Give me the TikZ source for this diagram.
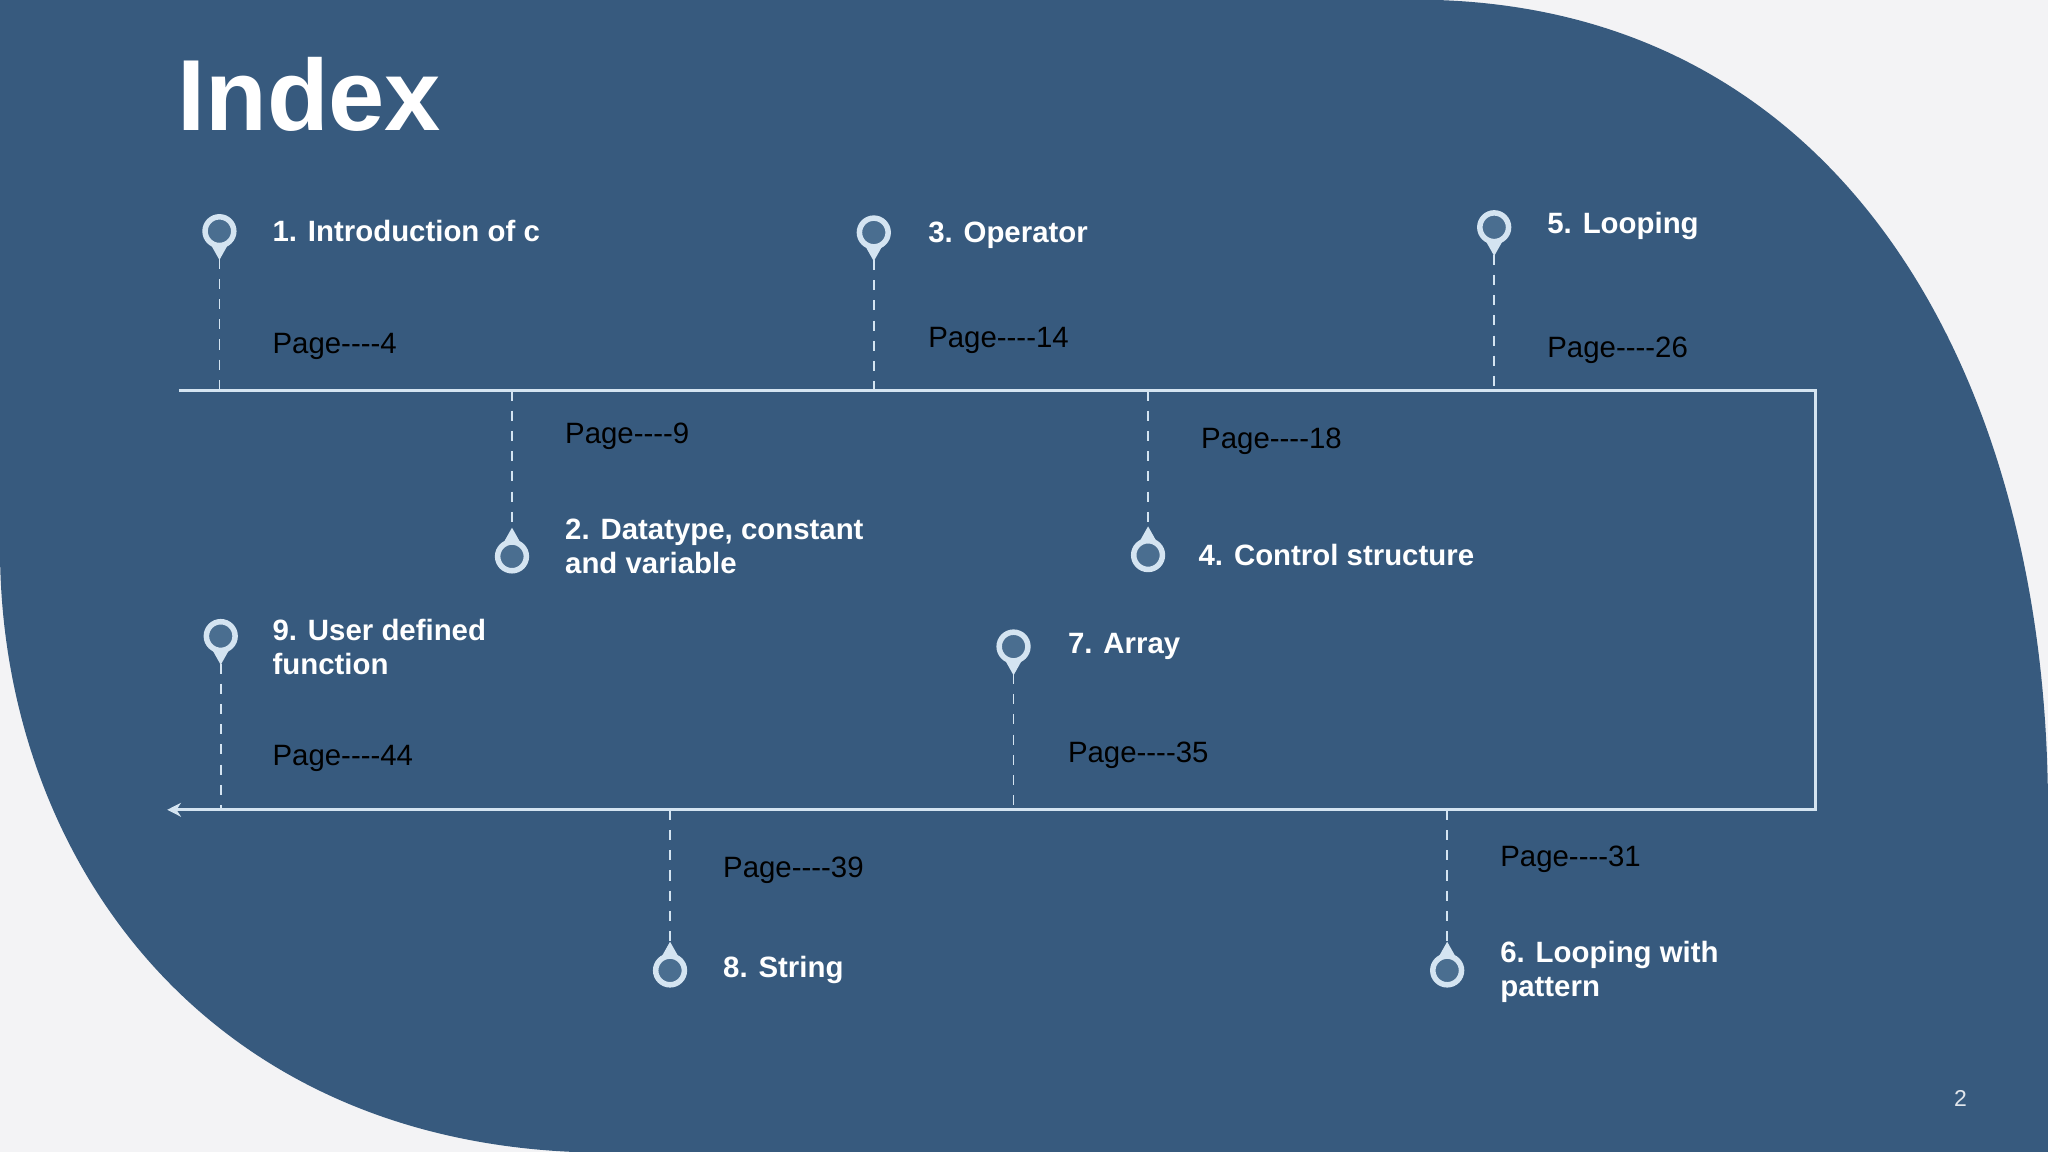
\documentclass[tikz,border=0pt]{standalone}
\usepackage{fontspec}
\setmainfont{Liberation Sans}[Ligatures=NoCommon]
\usetikzlibrary{arrows.meta}
\definecolor{bg}{HTML}{F3F3F5}
\definecolor{blu}{HTML}{375A7E}
\definecolor{pinc}{HTML}{D4E4F1}
\definecolor{pinin}{HTML}{4A6E90}
\newcommand{\dd}{-{}-{}-{}-}
\begin{document}
\begin{tikzpicture}[x=0.01cm,y=-0.01cm,
  lbl/.style={anchor=west,text=white,font=\fontsize{6.4}{7.4}\selectfont\bfseries,align=left,inner sep=0},
  pg/.style={anchor=west,text=black,font=\fontsize{6.4}{7.4}\selectfont,inner sep=0},
  tl/.style={draw=pinc,line width=0.7pt},
  dashln/.style={draw=pinc,line width=0.4pt,dash pattern=on 2.2pt off 2.2pt},
  ring/.style={draw=pinc,fill=pinin,line width=1.2pt}]
\fill[bg] (0,0) rectangle (1568,882);
\useasboundingbox (0,0) rectangle (1568,882);
\fill[blu] (0,0) -- (1100,0) .. controls (1420,10) and (1568,300) .. (1568,620) -- (1568,882) -- (440,882) .. controls (150,870) and (0,650) .. (0,420) -- cycle;
\node[anchor=west,text=white,font=\fontsize{22}{25}\selectfont\bfseries,inner sep=0] (title) at (135,72) {Index};
% timeline
\coordinate (t0) at (137,299); \coordinate (t1) at (1390,299);
\coordinate (t2) at (1390,620); \coordinate (t3) at (128,620);
\draw[tl,-{Stealth[length=3pt,width=3pt]}] (t0) -- (t1) -- (t2) -- (t3);
\foreach \n/\x/\y/\ly in {p1/168/177/299, p3/669/178/299, p5/1144/174/299, p9/169/487/620, p7/776/495/620}{
  \coordinate (\n) at (\x,\y);
  \coordinate (\n b) at (\x,\ly);
  \draw[dashln] (\x,\y+21) -- (\n b);
  \fill[pinc] (\x-9,\y+6) -- (\x,\y+22) -- (\x+9,\y+6) -- cycle;
  \draw[ring] (\n) circle (11);
}
\foreach \n/\x/\y/\ly in {p2/392/426/299, p4/879/425/299, p8/513/743/620, p6/1108/743/620}{
  \coordinate (\n) at (\x,\y);
  \coordinate (\n b) at (\x,\ly);
  \draw[dashln] (\n b) -- (\x,\y-21);
  \fill[pinc] (\x-9,\y-6) -- (\x,\y-22) -- (\x+9,\y-6) -- cycle;
  \draw[ring] (\n) circle (11);
}
\node[lbl] (l1) at (208,177) {1. Introduction of c};
\node[pg] (g1) at (208,265) {Page\dd4};
\node[lbl] (l3) at (710,180) {3. Operator};
\node[pg] (g3) at (710,261) {Page\dd14};
\node[lbl] (l5) at (1184,173) {5. Looping};
\node[pg] (g5) at (1184,268) {Page\dd26};
\node[pg] (g2) at (432,334) {Page\dd9};
\node[lbl] (l2) at (432,418) {2. Datatype, constant\\and variable};
\node[pg] (g4) at (919,338) {Page\dd18};
\node[lbl] (l4) at (917,425) {4. Control structure};
\node[lbl] (l9) at (208,495) {9. User defined\\function};
\node[pg] (g9) at (208,581) {Page\dd44};
\node[lbl] (l7) at (817,495) {7. Array};
\node[pg] (g7) at (817,578) {Page\dd35};
\node[pg] (g8) at (553,666) {Page\dd39};
\node[lbl] (l8) at (553,743) {8. String};
\node[pg] (g6) at (1148,658) {Page\dd31};
\node[lbl] (l6) at (1148,744) {6. Looping with\\pattern};
\node[text=white!85!blu,font=\fontsize{5}{6}\selectfont,inner sep=0] (num) at (1501,841) {2};
\end{tikzpicture}
\end{document}
